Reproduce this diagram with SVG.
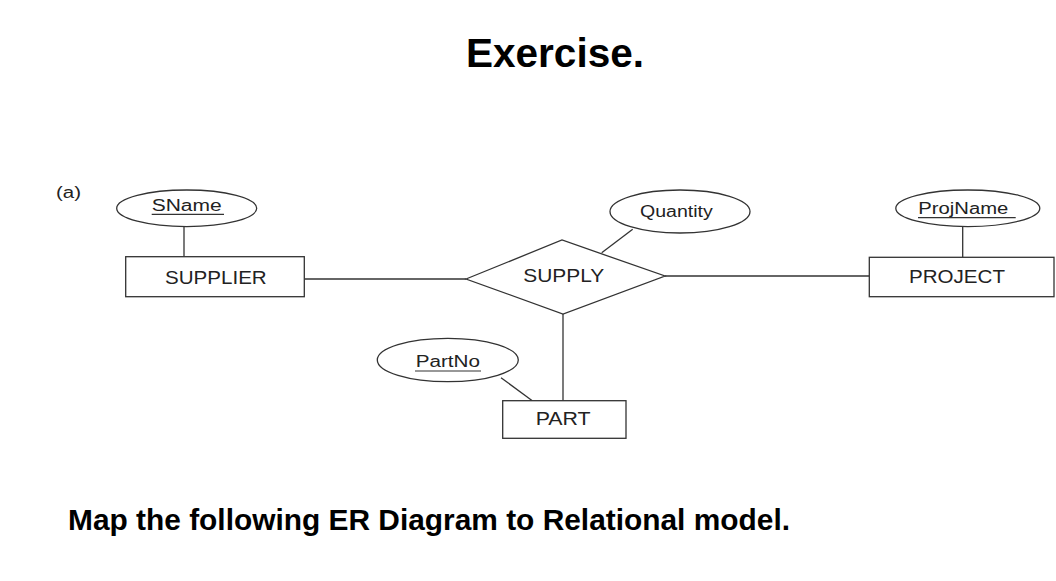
<svg xmlns="http://www.w3.org/2000/svg" width="1056" height="581" viewBox="0 0 1056 581">
<style>
.shape{fill:#fff;stroke:#333;stroke-width:1.3}
.conn line{stroke:#333;stroke-width:1.3}
.lbl{font-family:"Liberation Sans",Arial,sans-serif;fill:#222}
.ent{font-size:18px}
.att{font-size:16px}
.ul{stroke:#333;stroke-width:1.2}
.title{font-family:"Liberation Sans",Arial,sans-serif;font-weight:bold;fill:#000}
</style>
<rect width="1056" height="581" fill="#fff"/>
<text class="title" x="466" y="67" font-size="40" textLength="178" lengthAdjust="spacingAndGlyphs">Exercise.</text>
<text class="title" x="68" y="530" font-size="29.5" textLength="722" lengthAdjust="spacingAndGlyphs">Map the following ER Diagram to Relational model.</text>
<text class="lbl att" x="56" y="198" textLength="25" lengthAdjust="spacingAndGlyphs">(a)</text>
<g id="connectors" class="conn">
<line x1="184" y1="226.5" x2="184" y2="256.7"/>
<line x1="304.3" y1="279" x2="466" y2="279"/>
<line x1="665" y1="276" x2="869.3" y2="276"/>
<line x1="632.7" y1="229.3" x2="601.7" y2="252.7"/>
<line x1="563" y1="314" x2="563" y2="400.7"/>
<line x1="501" y1="377.7" x2="532.3" y2="400.7"/>
<line x1="962.7" y1="226.5" x2="962.7" y2="257.3"/>
</g>
<g id="SName">
<ellipse class="shape" cx="186.7" cy="208.3" rx="70" ry="18.3"/>
<text class="lbl att" x="151.7" y="210.7" textLength="70" lengthAdjust="spacingAndGlyphs">SName</text>
<line class="ul" x1="151.7" y1="214.3" x2="224" y2="214.3"/>
</g>
<g id="SUPPLIER">
<rect class="shape" x="125.7" y="256.7" width="178.6" height="40"/>
<text class="lbl ent" x="165" y="283.5" textLength="101.7" lengthAdjust="spacingAndGlyphs">SUPPLIER</text>
</g>
<g id="Quantity">
<ellipse class="shape" cx="680" cy="211.5" rx="70" ry="21.5"/>
<text class="lbl att" x="640" y="216.7" textLength="72.7" lengthAdjust="spacingAndGlyphs">Quantity</text>
</g>
<g id="SUPPLY">
<polygon class="shape" points="466,279 562,240 665,276 563,314"/>
<text class="lbl ent" x="523.3" y="282.3" textLength="81" lengthAdjust="spacingAndGlyphs">SUPPLY</text>
</g>
<g id="ProjName">
<ellipse class="shape" cx="967.8" cy="208.3" rx="72" ry="18.3"/>
<text class="lbl att" x="918.3" y="213.5" textLength="90" lengthAdjust="spacingAndGlyphs">ProjName</text>
<line class="ul" x1="918" y1="217.7" x2="1015.7" y2="217.7"/>
</g>
<g id="PROJECT">
<rect class="shape" x="869.3" y="257.3" width="184.7" height="39.4"/>
<text class="lbl ent" x="909" y="283" textLength="96" lengthAdjust="spacingAndGlyphs">PROJECT</text>
</g>
<g id="PartNo">
<ellipse class="shape" cx="447.8" cy="360" rx="70.5" ry="21.7"/>
<text class="lbl att" x="415.7" y="366.5" textLength="64.3" lengthAdjust="spacingAndGlyphs">PartNo</text>
<line class="ul" x1="415" y1="371" x2="481" y2="371"/>
</g>
<g id="PART">
<rect class="shape" x="502.7" y="400.7" width="123.3" height="37.6"/>
<text class="lbl ent" x="535.7" y="424.8" textLength="55" lengthAdjust="spacingAndGlyphs">PART</text>
</g>
</svg>
